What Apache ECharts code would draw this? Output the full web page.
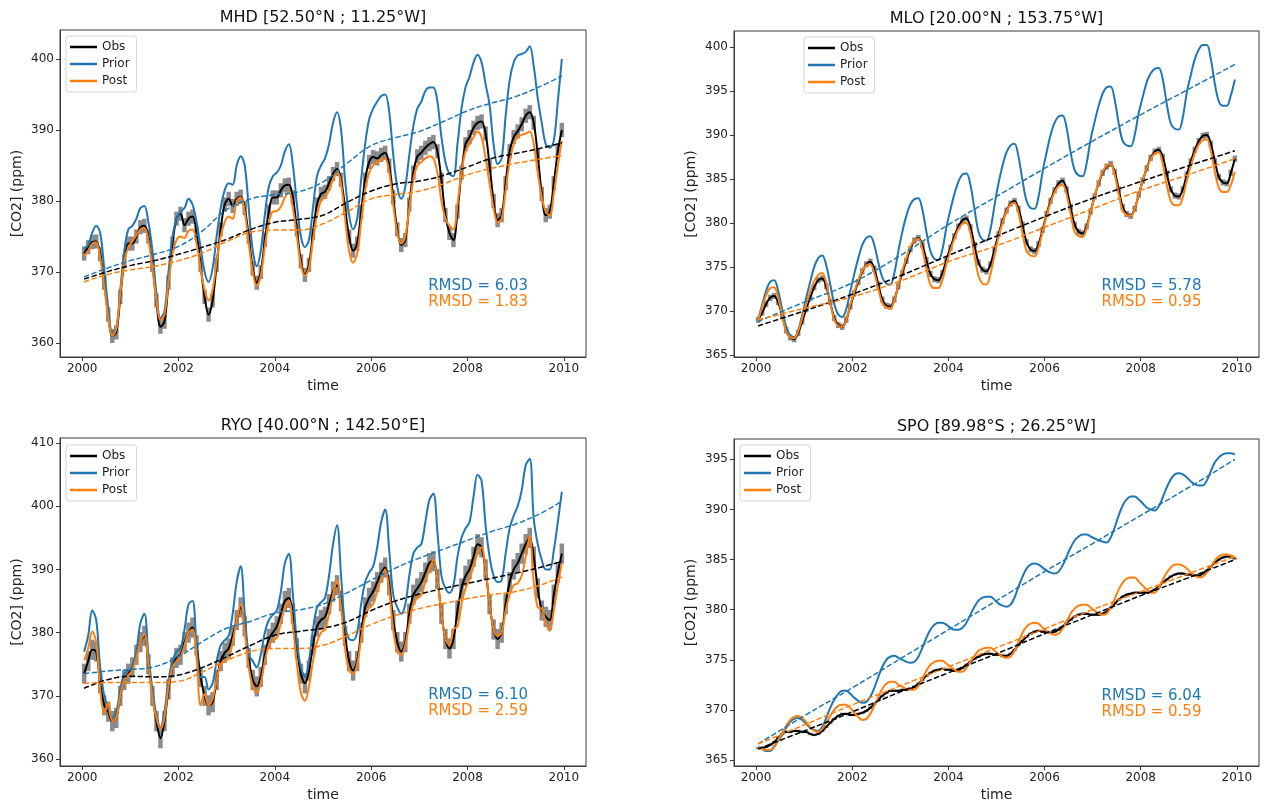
<!DOCTYPE html>
<html><head><meta charset="utf-8">
<script src="https://cdn.jsdelivr.net/npm/echarts@6/dist/echarts.min.js"></script>
<style>html,body{margin:0;padding:0;background:#fff}#c{width:1265px;height:803px}</style>
</head><body><div id="c"></div>
<script>
// ---------------- DATA ----------------
const startYear = 2000;
const nMonths = 120;
const xTickLabels = [2000, 2002, 2004, 2006, 2008, 2010];
const trendX = [2000.04,2000.5,2001,2001.5,2002,2002.5,2003,2003.5,2004,2004.5,2005,2005.5,2006,2006.5,2007,2007.5,2008,2008.5,2009,2009.5,2009.96];
const trendXAnnual = [2000.04,2001,2002,2003,2004,2005,2006,2007,2008,2009,2009.96];

const titles = ['MHD [52.50°N ; 11.25°W]', 'MLO [20.00°N ; 153.75°W]', 'RYO [40.00°N ; 142.50°E]', 'SPO [89.98°S ; 26.25°W]'];
const rmsdPrior = ['6.03', '5.78', '6.10', '6.04'];
const rmsdPost = ['1.83', '0.95', '2.59', '0.59'];
const obsErr = [1.0, 0.35, 1.6, 0.12];
const yTicksMHD = [360, 370, 380, 390, 400];
const yTicksMLO = [365, 370, 375, 380, 385, 390, 395, 400];
const yTicksRYO = [360, 370, 380, 390, 400, 410];
const yTicksSPO = [365, 370, 375, 380, 385, 390, 395];

// MHD
const mhdObs = [
372.6,373.5,374.2,374.3,372.5,368.5,364.0,361.0,361.5,366.5,371.5,374.0,
374.0,375.0,376.3,376.5,375.0,371.0,366.0,362.3,363.0,368.5,374.0,377.5,
378.2,376.6,377.5,377.8,375.5,371.0,366.5,364.0,366.0,371.0,376.0,379.5,
380.3,379.3,380.3,380.6,379.0,375.0,370.5,368.5,370.0,374.5,378.5,380.5,
380.5,381.5,382.2,382.3,380.5,376.0,371.5,369.6,371.0,375.5,379.5,381.0,
381.3,382.5,383.8,384.5,383.0,379.0,375.0,373.0,374.0,378.5,383.0,385.5,
386.2,386.0,386.5,386.8,385.0,380.5,376.0,373.8,374.5,379.5,384.0,386.3,
386.8,387.5,388.0,388.3,387.0,383.0,378.0,375.5,374.5,378.5,384.0,388.0,
389.0,390.3,391.0,391.2,389.5,385.0,380.0,377.3,378.0,382.5,387.0,389.0,
389.8,390.8,392.0,392.5,391.0,386.5,381.0,378.0,378.5,382.5,387.0,390.0];
const mhdPrior = [
373.3,373.8,375.5,376.5,375.5,370.5,365.0,361.5,362.0,367.5,373.0,376.0,
376.5,377.5,379.0,379.3,377.0,373.0,367.0,363.5,364.5,370.0,375.0,377.5,
378.5,379.0,380.3,379.5,377.0,373.5,370.0,368.6,370.5,375.0,379.0,381.5,
382.5,382.3,385.0,386.3,385.0,379.0,373.0,370.8,373.0,378.0,382.0,383.5,
384.0,385.0,387.0,388.0,385.0,379.5,375.0,373.5,374.5,379.0,383.5,385.0,
386.0,388.0,391.0,392.5,390.0,383.0,378.0,376.0,377.5,383.0,388.0,391.5,
393.0,394.0,394.8,395.0,392.5,386.5,382.0,380.3,382.0,386.5,390.5,393.0,
394.0,395.5,396.0,396.0,394.0,389.0,385.5,383.8,383.5,388.0,393.0,396.0,
397.5,399.5,400.6,399.5,396.5,393.5,388.0,385.2,386.0,392.0,397.0,399.5,
400.5,400.7,401.0,401.8,399.0,394.5,391.0,388.0,387.5,388.5,394.0,400.0];
const mhdPost = [
372.3,373.0,374.0,374.2,372.0,368.0,363.5,361.0,362.0,367.0,371.5,373.5,
374.3,375.2,376.0,376.2,374.5,370.5,366.0,363.2,364.0,368.5,372.5,374.5,
375.0,374.8,375.8,376.0,374.0,370.5,367.5,366.0,367.5,371.5,375.0,377.0,
377.8,377.5,380.0,380.5,378.5,374.0,370.0,368.0,369.5,373.5,377.0,378.5,
378.6,379.2,380.5,381.3,379.0,375.0,371.0,369.5,370.5,374.5,378.0,380.0,
380.5,381.5,383.0,384.2,382.5,377.5,373.0,371.3,372.5,377.0,381.5,384.0,
385.0,385.5,385.8,385.9,384.0,379.5,375.5,374.0,375.0,379.0,383.0,385.0,
385.5,386.0,386.3,386.0,384.0,380.0,377.5,376.5,376.0,379.5,384.0,387.0,
388.0,389.0,389.8,389.0,386.0,382.5,379.0,377.0,377.5,381.5,385.5,388.0,
389.0,389.3,389.5,389.8,388.0,384.0,380.5,378.5,378.0,381.0,385.0,388.5];
const mhdObsTrend = [369.0,370.0,370.9,371.6,372.5,373.5,374.6,376.0,377.0,377.4,378.0,379.8,381.4,382.4,382.8,383.6,384.8,386.0,386.7,387.4,388.2];
const mhdPriorTrend = [369.3,370.5,371.6,372.5,373.6,375.8,378.8,380.3,380.9,381.3,382.7,385.3,387.8,388.9,389.8,391.2,392.7,393.8,394.7,396.1,397.6];
const mhdPostTrend = [368.6,369.6,370.3,370.8,371.6,372.7,374.3,375.6,375.9,375.9,376.8,378.5,380.3,380.9,381.4,382.4,383.7,384.6,385.3,385.9,386.4];

// MLO
const mloObs = [
369.0,369.8,370.8,371.5,371.7,371.0,369.5,367.8,367.0,366.8,367.5,368.8,
370.2,371.5,372.7,373.5,373.7,372.8,371.0,369.2,368.4,368.2,369.0,370.5,
372.0,373.3,374.5,375.3,375.6,374.8,373.0,371.3,370.6,370.5,371.3,372.8,
374.3,375.7,377.0,378.0,378.3,377.5,375.8,374.2,373.6,373.5,374.3,375.8,
377.2,378.5,379.6,380.3,380.5,379.5,377.5,375.5,374.7,374.5,375.3,377.0,
378.7,380.2,381.4,382.2,382.5,381.6,379.8,377.8,377.0,376.8,377.6,379.2,
381.0,382.5,383.7,384.5,384.8,383.8,381.8,379.8,379.0,378.8,379.6,381.3,
383.0,384.5,385.7,386.4,386.7,385.8,383.8,381.8,381.0,380.8,381.6,383.2,
384.8,386.2,387.4,388.1,388.3,387.5,385.6,383.8,383.1,383.0,383.8,385.5,
387.0,388.3,389.3,389.9,390.0,389.0,387.0,385.2,384.6,384.5,385.7,387.3];
const mloPrior = [
369.0,370.7,372.3,373.3,373.5,372.3,370.2,368.2,367.2,367.0,367.8,369.5,
371.5,373.3,375.0,376.0,376.3,375.2,373.0,370.8,369.6,369.3,370.2,372.2,
374.2,376.0,377.5,378.3,378.5,377.5,375.5,373.8,373.1,373.0,374.3,376.8,
379.0,380.8,382.1,382.7,382.8,381.5,379.0,376.8,375.9,375.8,377.0,379.5,
381.5,383.3,384.7,385.5,385.6,384.3,381.6,379.0,378.1,378.0,379.3,382.0,
384.5,386.5,388.0,388.8,389.0,387.5,384.8,382.5,381.7,381.6,383.0,385.8,
388.0,390.0,391.4,392.1,392.2,390.8,388.0,386.0,385.4,385.3,386.8,389.5,
391.5,393.3,394.7,395.4,395.5,394.0,391.3,389.3,388.8,388.7,390.0,392.5,
394.3,396.0,397.0,397.5,397.6,396.3,393.5,391.3,390.7,390.6,392.0,394.8,
396.8,398.6,399.7,400.2,400.2,398.6,395.8,393.8,393.3,393.3,394.5,396.3];
const mloPost = [
369.0,370.4,371.8,372.6,372.7,371.5,369.5,367.6,367.0,366.9,367.7,369.2,
370.8,372.2,373.4,374.1,374.3,373.2,371.0,369.0,368.3,368.2,369.0,370.7,
372.2,373.5,374.6,375.2,375.3,374.3,372.5,370.9,370.4,370.3,371.2,372.9,
374.6,376.0,377.3,378.0,378.2,377.0,374.8,373.0,372.6,372.6,373.5,375.3,
376.9,378.2,379.3,379.9,380.0,378.8,376.3,374.0,373.1,373.0,374.2,376.3,
378.4,380.0,381.3,382.1,382.3,381.1,378.8,376.8,376.3,376.2,377.2,379.0,
380.8,382.3,383.5,384.2,384.3,383.2,381.0,379.0,378.5,378.4,379.4,381.2,
383.0,384.6,385.8,386.5,386.7,385.5,383.3,381.4,380.9,380.8,381.6,383.2,
384.8,386.2,387.3,387.9,388.0,386.7,384.3,382.5,382.0,382.0,382.9,384.8,
386.5,387.9,388.9,389.4,389.5,388.2,385.8,384.0,383.5,383.5,384.3,385.8];
const mloObsTrend = [368.3,370.0,371.9,374.0,376.3,378.5,380.7,382.8,384.7,386.5,388.2];
const mloPriorTrend = [368.8,371.0,373.2,376.3,379.8,383.0,386.2,389.3,392.3,395.2,398.0];
const mloPostTrend = [369.0,370.3,371.6,373.4,375.6,377.4,379.5,381.6,383.7,385.5,387.3];

// RYO
const ryoObs = [
373.5,375.5,377.3,377.0,372.0,368.5,367.5,366.0,366.5,370.0,372.5,373.5,
374.5,376.5,378.5,379.5,375.0,370.0,366.0,363.3,366.0,371.0,374.5,376.0,
376.5,378.5,380.0,380.8,378.0,373.0,370.0,368.5,369.0,372.5,375.5,376.8,
377.5,379.5,382.0,384.0,381.0,376.0,372.5,371.5,373.0,376.5,379.0,380.0,
381.0,383.0,385.0,385.5,383.0,377.5,373.5,372.0,374.0,378.0,381.0,382.0,
382.5,384.5,386.5,387.5,385.0,379.5,375.5,374.0,375.5,380.0,384.0,385.5,
386.5,388.0,389.5,390.3,387.5,382.0,378.5,377.0,378.5,383.0,386.0,387.0,
388.0,389.5,391.0,391.3,388.5,383.0,379.0,377.5,379.0,383.5,387.0,389.0,
390.0,392.0,394.0,393.5,390.0,384.5,380.5,379.0,380.0,384.5,388.0,390.0,
391.0,392.5,394.0,395.0,392.0,387.0,383.5,382.5,382.0,386.0,389.5,392.5];
const ryoPrior = [
377.0,379.5,383.5,382.0,374.5,370.0,368.0,366.5,367.5,371.0,373.5,374.0,
374.5,377.0,381.5,383.0,376.5,371.0,367.0,365.0,367.5,372.5,375.5,377.0,
377.5,380.5,384.5,385.0,378.0,373.0,373.0,371.0,372.0,375.5,378.0,378.8,
379.5,383.0,388.0,390.5,383.0,376.5,375.5,374.5,376.5,380.0,382.0,382.8,
383.5,386.5,391.0,392.5,386.0,378.5,374.5,373.0,375.5,380.5,384.0,384.8,
385.5,389.0,394.0,397.0,389.0,381.0,379.0,378.8,380.0,384.5,388.0,389.5,
390.5,393.5,397.5,399.5,393.0,386.0,384.0,383.0,384.5,389.0,392.5,393.5,
394.0,397.5,401.0,402.0,396.0,389.0,387.0,386.3,387.5,392.0,395.0,396.5,
397.5,401.5,405.0,404.0,397.0,392.0,389.0,388.0,388.3,392.5,396.5,398.5,
400.0,402.5,406.5,407.5,398.0,394.0,391.5,390.0,390.0,393.0,397.5,402.3];
const ryoPost = [
375.6,377.5,380.2,378.5,371.0,367.2,369.0,366.0,366.5,370.0,372.5,373.3,
374.0,376.0,378.5,379.8,375.0,369.5,366.5,364.8,366.5,371.5,374.5,375.5,
376.2,378.0,380.0,380.5,376.0,368.5,370.3,368.5,369.5,372.5,375.0,375.5,
376.0,378.5,382.0,384.5,380.0,374.5,371.5,370.5,372.0,375.5,378.0,378.8,
379.2,381.5,384.0,385.0,381.0,375.0,370.5,369.2,371.5,375.5,378.5,380.0,
380.5,383.0,386.0,388.3,384.0,377.5,374.0,373.5,375.0,379.0,382.5,384.0,
384.5,386.5,388.5,390.0,386.5,380.5,377.0,376.5,378.0,381.5,384.5,385.5,
386.0,388.0,390.0,391.5,388.5,383.0,379.0,378.0,380.5,381.0,384.5,387.0,
388.5,390.5,392.5,393.5,390.0,384.5,380.5,379.5,380.0,383.5,386.0,387.5,
387.8,389.0,392.0,395.3,388.0,384.0,383.8,381.5,380.3,383.5,387.5,391.0];
const ryoObsTrend = [371.2,372.5,373.1,373.0,373.3,374.5,376.2,378.0,379.6,380.2,380.7,381.7,383.5,385.0,386.1,387.0,387.8,388.6,389.4,390.3,391.3];
const ryoPriorTrend = [373.5,373.9,374.2,374.6,376.2,378.6,380.7,381.8,383.1,383.6,384.5,386.3,388.3,390.2,391.8,393.2,394.6,396.0,397.2,398.8,400.8];
const ryoPostTrend = [372.0,372.1,372.1,372.1,372.3,373.8,375.6,377.0,377.5,377.5,378.0,379.5,381.3,382.7,383.8,384.6,385.4,386.0,386.5,387.5,388.8];

// SPO
const spoObs = [
366.2,366.2,366.3,366.5,366.8,367.2,367.6,367.8,367.8,367.9,367.9,367.8,
367.8,367.6,367.5,367.6,367.9,368.3,368.7,369.1,369.4,369.6,369.6,369.5,
369.5,369.6,369.7,369.9,370.2,370.6,371.0,371.4,371.7,371.9,371.9,371.9,
372.0,372.0,372.1,372.3,372.6,373.0,373.4,373.7,373.9,374.0,374.1,374.0,
374.0,373.9,374.0,374.2,374.5,374.8,375.1,375.3,375.5,375.6,375.6,375.5,
375.5,375.4,375.4,375.6,376.0,376.5,376.9,377.3,377.6,377.8,377.9,377.8,
377.8,377.7,377.8,378.0,378.3,378.7,379.0,379.3,379.5,379.6,379.6,379.5,
379.5,379.5,379.6,379.8,380.2,380.6,381.0,381.3,381.5,381.6,381.7,381.7,
381.7,381.7,381.8,382.0,382.3,382.7,383.0,383.3,383.5,383.6,383.6,383.5,
383.5,383.4,383.4,383.6,383.9,384.3,384.7,385.0,385.2,385.3,385.3,385.1];
const spoPrior = [
366.3,366.1,365.9,365.9,366.3,366.9,367.5,368.2,368.8,369.1,369.2,369.0,
368.6,368.2,368.0,367.9,368.3,369.2,370.2,371.0,371.6,371.9,371.9,371.6,
371.2,370.9,370.7,370.8,371.3,372.2,373.3,374.3,375.0,375.3,375.4,375.2,
375.0,374.8,374.7,374.8,375.3,376.2,377.2,378.0,378.5,378.7,378.7,378.5,
378.2,378.0,378.0,378.2,378.7,379.5,380.3,380.9,381.2,381.3,381.3,381.0,
380.6,380.4,380.3,380.5,381.2,382.3,383.3,384.1,384.5,384.6,384.5,384.2,
383.9,383.7,383.6,383.8,384.4,385.3,386.2,386.9,387.3,387.5,387.5,387.3,
387.1,386.9,386.8,386.7,387.2,388.2,389.4,390.4,391.0,391.3,391.3,391.0,
390.6,390.2,390.0,389.9,390.3,391.2,392.2,393.0,393.5,393.6,393.5,393.2,
392.8,392.5,392.4,392.4,392.9,393.8,394.7,395.2,395.5,395.6,395.6,395.5];
const spoPost = [
366.2,366.1,366.0,366.0,366.4,367.0,367.7,368.4,369.0,369.3,369.4,369.2,
368.8,368.3,367.9,367.8,368.1,368.7,369.4,370.0,370.4,370.5,370.5,370.2,
369.7,369.3,369.0,369.1,369.6,370.4,371.3,372.1,372.6,372.8,372.8,372.5,
372.3,372.1,372.0,372.0,372.4,373.1,373.9,374.5,374.8,374.9,374.9,374.6,
374.3,374.0,373.8,373.8,374.2,374.8,375.4,375.9,376.1,376.2,376.2,375.9,
375.6,375.3,375.2,375.3,375.9,376.8,377.7,378.3,378.6,378.7,378.6,378.2,
377.9,377.6,377.5,377.6,378.1,378.8,379.6,380.1,380.4,380.5,380.5,380.2,
379.9,379.6,379.5,379.6,380.2,381.1,382.0,382.7,383.1,383.2,383.2,382.8,
382.4,382.0,381.7,381.7,382.2,383.0,383.7,384.2,384.5,384.5,384.4,384.1,
383.7,383.4,383.2,383.3,383.7,384.3,384.9,385.3,385.5,385.5,385.4,385.2];
const spoObsTrend = [366.1,367.9,369.8,371.8,373.7,375.6,377.6,379.5,381.4,383.2,385.0];
const spoPriorTrend = [366.6,369.4,372.2,375.1,378.0,380.9,383.8,386.6,389.4,392.2,395.0];
const spoPostTrend = [366.6,368.5,370.5,372.4,374.3,376.2,378.1,380.0,381.8,383.6,385.3];

// ---------------- LAYOUT / STYLE ----------------
const FONT = 'DejaVu Sans';
const C_OBS = '#000000', C_PRIOR = '#1f77b4', C_POST = '#ff7f0e';
const panels = [
  {grid:{left:60, top:30, width:526, height:327}, y:[358.03, 404.08], yt:yTicksMHD,
   obs:mhdObs, prior:mhdPrior, post:mhdPost, tx:trendX, to:mhdObsTrend, tp:mhdPriorTrend, tq:mhdPostTrend, legend:{left:66, top:36}},
  {grid:{left:734, top:31, width:525, height:326}, y:[364.77, 401.8], yt:yTicksMLO,
   obs:mloObs, prior:mloPrior, post:mloPost, tx:trendXAnnual, to:mloObsTrend, tp:mloPriorTrend, tq:mloPostTrend, legend:{left:804, top:37}},
  {grid:{left:60, top:438, width:526, height:328}, y:[358.9, 410.8], yt:yTicksRYO,
   obs:ryoObs, prior:ryoPrior, post:ryoPost, tx:trendX, to:ryoObsTrend, tp:ryoPriorTrend, tq:ryoPostTrend, legend:{left:66, top:445}},
  {grid:{left:734, top:439, width:525, height:328}, y:[364.4, 397.03], yt:yTicksSPO,
   obs:spoObs, prior:spoPrior, post:spoPost, tx:trendXAnnual, to:spoObsTrend, tp:spoPriorTrend, tq:spoPostTrend, legend:{left:740, top:445}}
];

const tMonths = [];
for (let i = 0; i < nMonths; i++) tMonths.push(startYear + (i + 0.5) / 12);
const pair = (xs, ys) => ys.map((v, i) => [xs[i], v]);

const option = {
  animation: false,
  backgroundColor: '#ffffff',
  textStyle: {fontFamily: FONT},
  grid: [], xAxis: [], yAxis: [], series: [], legend: [], graphic: []
};

panels.forEach((p, k) => {
  option.grid.push(Object.assign({show: true, borderColor: '#3a3a3a', borderWidth: 1, backgroundColor: '#fff'}, p.grid));
  option.xAxis.push({
    type: 'value', gridIndex: k, min: 1999.54, max: 2010.46,
    name: 'time', nameLocation: 'middle', nameGap: 22,
    nameTextStyle: {fontSize: 14, color: '#222', fontFamily: FONT},
    axisLine: {show: true, lineStyle: {color: '#3a3a3a', width: 1}},
    axisTick: {show: true, length: 4, lineStyle: {color: '#3a3a3a'}, customValues: xTickLabels},
    axisLabel: {fontSize: 12, color: '#222', margin: 6, fontFamily: FONT, customValues: xTickLabels,
      formatter: v => String(Math.round(v))},
    splitLine: {show: false}
  });
  option.yAxis.push({
    type: 'value', gridIndex: k, min: p.y[0], max: p.y[1],
    name: '[CO2] (ppm)', nameLocation: 'middle', nameGap: 36,
    nameTextStyle: {fontSize: 14, color: '#222', fontFamily: FONT},
    axisLine: {show: true, lineStyle: {color: '#3a3a3a', width: 1}},
    axisTick: {show: true, length: 4, lineStyle: {color: '#3a3a3a'}, customValues: p.yt},
    axisLabel: {fontSize: 12, color: '#222', margin: 6, fontFamily: FONT, customValues: p.yt,
      formatter: v => String(Math.round(v))},
    splitLine: {show: false}
  });
  const err = obsErr[k];
  option.series.push({
    type: 'custom', name: 'err', xAxisIndex: k, yAxisIndex: k, z: 1, silent: true,
    data: p.obs.map((v, i) => [tMonths[i], v - err, v + err]),
    encode: {x: 0, y: [1, 2]},
    renderItem: (params, api) => {
      const a = api.coord([api.value(0), api.value(1)]);
      const b = api.coord([api.value(0), api.value(2)]);
      return {type: 'line', shape: {x1: a[0], y1: a[1], x2: b[0], y2: b[1]},
        style: {stroke: 'rgba(120,120,120,0.85)', lineWidth: 4.5}};
    }
  });
  const line = (name, data, color, z, dashed) => ({
    type: 'line', name, xAxisIndex: k, yAxisIndex: k, data, z,
    showSymbol: false, symbol: 'none', smooth: dashed ? 0.4 : 0.35, color,
    itemStyle: {color},
    lineStyle: {color, width: dashed ? 1.5 : 2, type: dashed ? [5.5, 2.4] : 'solid'}
  });
  option.series.push(line('Obs', pair(tMonths, p.obs), C_OBS, 2, false));
  option.series.push(line('Prior', pair(tMonths, p.prior), C_PRIOR, 3, false));
  option.series.push(line('Post', pair(tMonths, p.post), C_POST, 4, false));
  option.series.push(line('Obs trend', pair(p.tx, p.to), C_OBS, 5, true));
  option.series.push(line('Prior trend', pair(p.tx, p.tp), C_PRIOR, 5, true));
  option.series.push(line('Post trend', pair(p.tx, p.tq), C_POST, 5, true));
  option.legend.push({
    data: ['Obs', 'Prior', 'Post'], orient: 'vertical', left: p.legend.left, top: p.legend.top,
    icon: 'rect', itemWidth: 27, itemHeight: 2.5, itemGap: 5,
    textStyle: {fontSize: 12, color: '#222', fontFamily: FONT},
    padding: [5, 7, 5, 4], borderColor: '#d5d5d5', borderWidth: 1, borderRadius: 3,
    backgroundColor: 'rgba(255,255,255,0.85)', selectedMode: false
  });
  const g = p.grid;
  const cx = g.left + g.width / 2;
  option.graphic.push({type: 'text', x: cx, y: g.top - 12, style: {text: titles[k], font: '16px "DejaVu Sans"', fill: '#111', textAlign: 'center', textVerticalAlign: 'middle'}, z: 100});
  const rx = g.left + g.width * 0.7;
  const ry = g.top + g.height * 0.783;
  option.graphic.push({type: 'text', x: rx, y: ry, style: {text: 'RMSD = ' + rmsdPrior[k], font: '15px "DejaVu Sans"', fill: C_PRIOR, textVerticalAlign: 'middle'}, z: 100});
  option.graphic.push({type: 'text', x: rx, y: ry + 16, style: {text: 'RMSD = ' + rmsdPost[k], font: '15px "DejaVu Sans"', fill: C_POST, textVerticalAlign: 'middle'}, z: 100});
});

const chart = echarts.init(document.getElementById('c'), null, {renderer: 'canvas'});
chart.setOption(option);
</script></body></html>
